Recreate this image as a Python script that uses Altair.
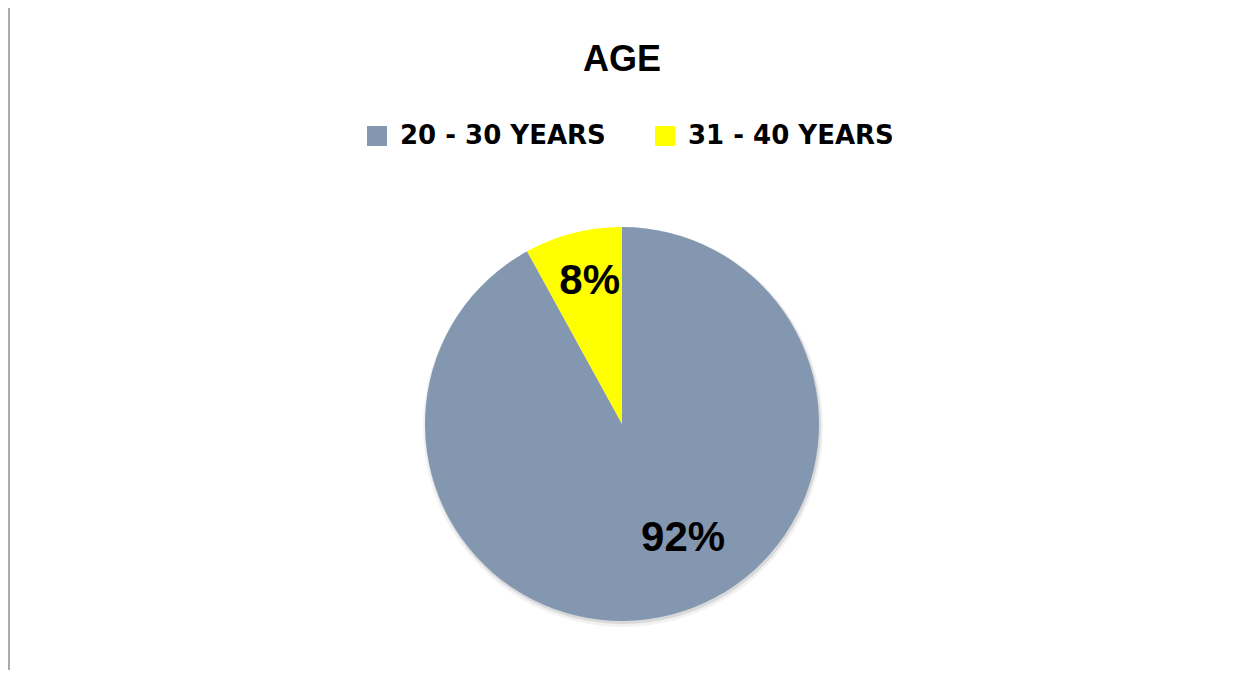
import math
import altair as alt
import pandas as pd

categories = ["20 - 30 YEARS", "31 - 40 YEARS"]
values = [92, 8]
labels = ["92%", "8%"]
colors = ["#8497B0", "#FFFF00"]

df = pd.DataFrame({"age": categories, "pct": values, "label": labels, "order": [0, 1]})

W, H = 1220, 662
CX, CY = 614, 416
R = 197

base = alt.Chart(df)
theta = alt.Theta("pct:Q", stack=True)
order = alt.Order("order:Q")

legend = alt.Legend(
    title=None, orient="none", legendX=356, legendY=115, direction="horizontal",
    symbolType="square", symbolSize=400, symbolStrokeWidth=0, symbolOpacity=1,
    labelFont="DejaVu Sans", labelFontWeight="bold", labelFontSize=26,
    labelColor="#000000", columnPadding=46, labelOffset=10, labelLimit=400,
)
color = alt.Color("age:N", scale=alt.Scale(domain=categories, range=colors), legend=legend)

shadow1 = base.mark_arc(radius=R + 3, color="#000000", opacity=0.05).encode(
    theta=theta, order=order, x=alt.value(CX + 1), y=alt.value(CY + 3))
shadow2 = base.mark_arc(radius=R + 1, color="#000000", opacity=0.10).encode(
    theta=theta, order=order, x=alt.value(CX + 1), y=alt.value(CY + 2))

pie = base.mark_arc(radius=R).encode(
    theta=theta, color=color, order=order, x=alt.value(CX), y=alt.value(CY))

mid = (base
       .transform_window(cum="sum(pct)", sort=[alt.SortField("order")], frame=[None, 0])
       .transform_calculate(mid="datum.cum - datum.pct / 2"))

theta_mid = alt.Theta("mid:Q", scale=alt.Scale(domain=[0, 100], range=[0, 2 * math.pi]))
txt_style = dict(font="Liberation Sans", fontWeight="bold", fontSize=42, color="#000000")

t_big = mid.transform_filter(alt.datum.age == categories[0]).mark_text(dx=30, dy=-7, **txt_style).encode(
    theta=theta_mid, radius=alt.value(125), text="label:N", x=alt.value(CX), y=alt.value(CY))
t_small = mid.transform_filter(alt.datum.age == categories[1]).mark_text(dx=4, dy=-2, **txt_style).encode(
    theta=theta_mid, radius=alt.value(146), text="label:N", x=alt.value(CX), y=alt.value(CY))

left_border = base.mark_rule(color="#a6a6a6", strokeWidth=1.5).encode(
    x=alt.value(1), y=alt.value(0), y2=alt.value(H))

chart = (alt.layer(left_border, shadow1, shadow2, pie, t_big, t_small)
         .resolve_scale(theta="independent")
         .properties(
             width=W, height=H,
             autosize=alt.AutoSizeParams(type="none"),
             padding=0,
             background="#ffffff",
             title=alt.TitleParams("AGE", font="Liberation Sans", fontSize=36, fontWeight="bold",
                                   color="#000000", anchor="middle", baseline="middle",
                                   offset=-89, dx=4),
         )
         .configure_view(stroke=None))

chart.save("out.html", embed_options={"renderer": "svg", "actions": False})
